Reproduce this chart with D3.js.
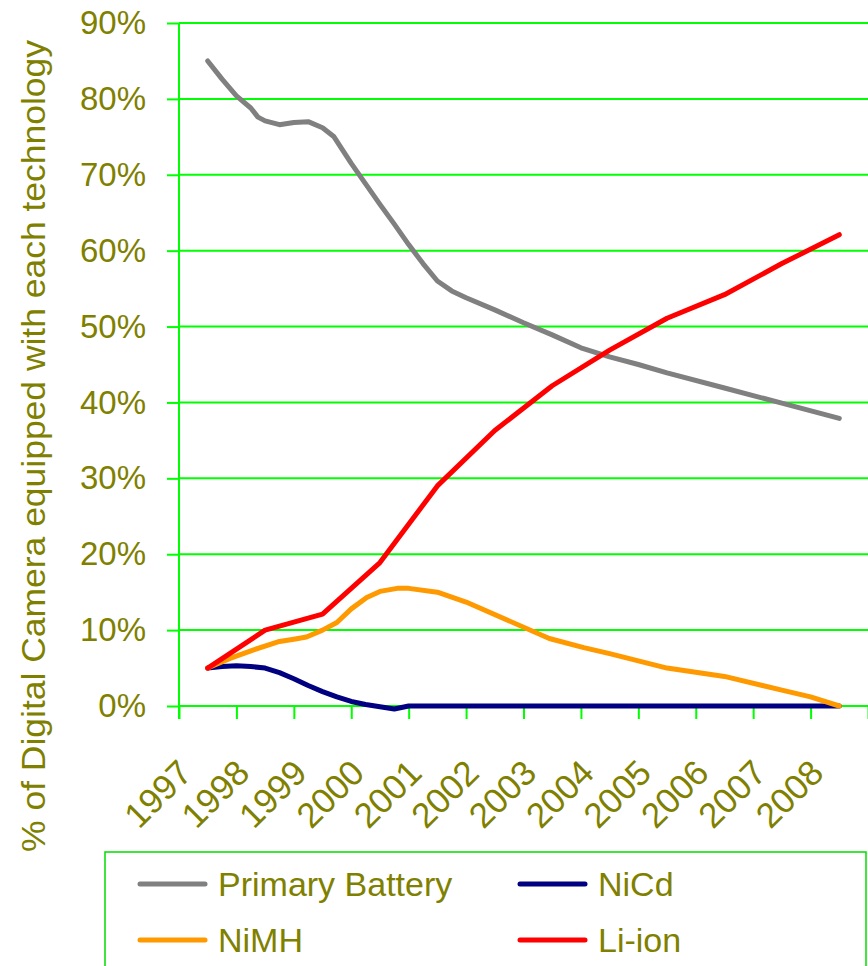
<!DOCTYPE html>
<html>
<head>
<meta charset="utf-8">
<script src="https://cdn.jsdelivr.net/npm/d3@7"></script>
<style>
  html, body { margin: 0; padding: 0; background: #fff; }
  svg { display: block; }
  text { font-family: "Liberation Sans", Arial, sans-serif; fill: #808000; }
</style>
</head>
<body>
<svg id="chart" width="868" height="966"></svg>
<script>
// ---- Data ----
const yearLabels = ["1997","1998","1999","2000","2001","2002","2003","2004","2005","2006","2007","2008"];
const yTicks = [0, 10, 20, 30, 40, 50, 60, 70, 80, 90];

const primaryYears  = [1997.5,1997.75,1998.0,1998.25,1998.375,1998.5,1998.75,1999.0,1999.25,1999.5,1999.7,2000.0,2000.25,2000.5,2000.75,2001.0,2001.25,2001.5,2001.75,2002.0,2002.5,2003.0,2003.5,2004.0,2004.5,2005.0,2005.5,2006.5,2007.5,2008.5];
const primaryValues = [85.0,82.6,80.4,78.8,77.6,77.1,76.6,76.9,77.0,76.2,75.0,71.5,68.8,66.1,63.5,60.8,58.3,56.0,54.7,53.8,52.2,50.5,48.9,47.2,46.0,45.0,43.9,41.9,39.9,37.9];

const nicdYears  = [1997.5,1997.75,1998.0,1998.25,1998.5,1998.75,1999.0,1999.25,1999.5,1999.75,2000.0,2000.25,2000.5,2000.75,2001.0,2002.0,2003.0,2004.0,2005.0,2006.0,2007.0,2008.0,2008.5];
const nicdValues = [5.0,5.2,5.3,5.2,5.0,4.4,3.6,2.7,1.9,1.2,0.6,0.2,-0.1,-0.4,0,0,0,0,0,0,0,0,0];

const nimhYears  = [1997.5,1997.9,1998.3,1998.75,1999.0,1999.22,1999.5,1999.75,2000.0,2000.27,2000.5,2000.8,2001.0,2001.5,2002.0,2003.45,2004.05,2004.5,2005.5,2006.5,2007.5,2008.0,2008.5];
const nimhValues = [5.0,6.3,7.4,8.5,8.8,9.1,10.0,11.0,12.8,14.3,15.1,15.5,15.5,15.0,13.7,8.9,7.7,6.9,5.0,3.9,2.1,1.2,0.0];

const lionYears  = [1997.5,1998.5,1999.5,2000.5,2001.5,2002.5,2003.5,2004.5,2005.5,2006.5,2007.5,2008.5];
const lionValues = [5.0,10.0,12.1,18.9,29.0,36.3,42.2,46.9,51.1,54.2,58.3,62.1];

const seriesNames  = ["Primary Battery","NiCd","NiMH","Li-ion"];
const seriesColors = ["#808080","#000080","#FF9900","#FF0000"];

// ---- Layout ----
const svg = d3.select("#chart");
const x = d3.scaleLinear().domain([1997, 2009]).range([179, 868]);
const y = d3.scaleLinear().domain([0, 90]).range([706, 23]);
const green = "#00FF00";

// gridlines
svg.append("g").selectAll("line").data(yTicks).join("line")
  .attr("x1", x(1997)).attr("x2", x(2009))
  .attr("y1", d => y(d)).attr("y2", d => y(d))
  .attr("stroke", green).attr("stroke-width", 2);

// y axis
const yAxis = d3.axisLeft(y).tickValues(yTicks).tickSize(12).tickFormat(d => d + "%").tickPadding(21);
const gy = svg.append("g").attr("transform", `translate(${x(1997)},0)`).call(yAxis);
gy.select(".domain").remove();
gy.selectAll(".tick line").attr("stroke", green).attr("stroke-width", 2);
gy.selectAll(".tick text").attr("font-size", 33).attr("fill", "#808000")
  .attr("font-family", "Liberation Sans, Arial, sans-serif");
svg.append("line").attr("x1", x(1997)).attr("x2", x(1997)).attr("y1", y(90)).attr("y2", y(0) + 13)
  .attr("stroke", green).attr("stroke-width", 2);

// x axis
const xTickVals = d3.range(1997, 2010);
const xAxis = d3.axisBottom(x).tickValues(xTickVals).tickSize(13).tickFormat("");
const gx = svg.append("g").attr("transform", `translate(0,${y(0)})`).call(xAxis);
gx.select(".domain").remove();
gx.selectAll(".tick line").attr("stroke", green).attr("stroke-width", 2);

svg.append("g").selectAll("text").data(yearLabels).join("text")
  .attr("transform", d => `translate(${x(+d) + 15},${775}) rotate(-45)`)
  .attr("text-anchor", "end")
  .attr("font-size", 35)
  .text(d => d);

// y title
svg.append("text")
  .attr("transform", `translate(45,446) rotate(-90)`)
  .attr("text-anchor", "middle")
  .attr("font-size", 34)
  .attr("textLength", 812).attr("lengthAdjust", "spacingAndGlyphs")
  .text("% of Digital Camera equipped with each technology");

// lines
const allSeries = [
  {years: primaryYears, values: primaryValues},
  {years: nicdYears, values: nicdValues},
  {years: nimhYears, values: nimhValues},
  {years: lionYears, values: lionValues}
];
const line = d3.line().x(d => x(d[0])).y(d => y(d[1]));
allSeries.forEach((s, i) => {
  svg.append("path")
    .datum(s.years.map((yr, j) => [yr, s.values[j]]))
    .attr("d", line)
    .attr("fill", "none")
    .attr("stroke", seriesColors[i])
    .attr("stroke-width", 5)
    .attr("stroke-linejoin", "round")
    .attr("stroke-linecap", "round");
});

// legend
const lg = svg.append("g");
lg.append("rect").attr("x", 105).attr("y", 852).attr("width", 761).attr("height", 140)
  .attr("fill", "none").attr("stroke", "#00DD00").attr("stroke-width", 1.5);
const legPos = [[140, 884], [520, 884], [140, 940], [520, 940]];
seriesNames.forEach((n, i) => {
  const [lx, ly] = legPos[i];
  lg.append("line").attr("x1", lx).attr("x2", lx + 65).attr("y1", ly).attr("y2", ly)
    .attr("stroke", seriesColors[i]).attr("stroke-width", 5).attr("stroke-linecap", "round");
  lg.append("text").attr("x", lx + 78).attr("y", ly).attr("dy", "0.36em")
    .attr("font-size", 34).text(n);
});
</script>
</body>
</html>
